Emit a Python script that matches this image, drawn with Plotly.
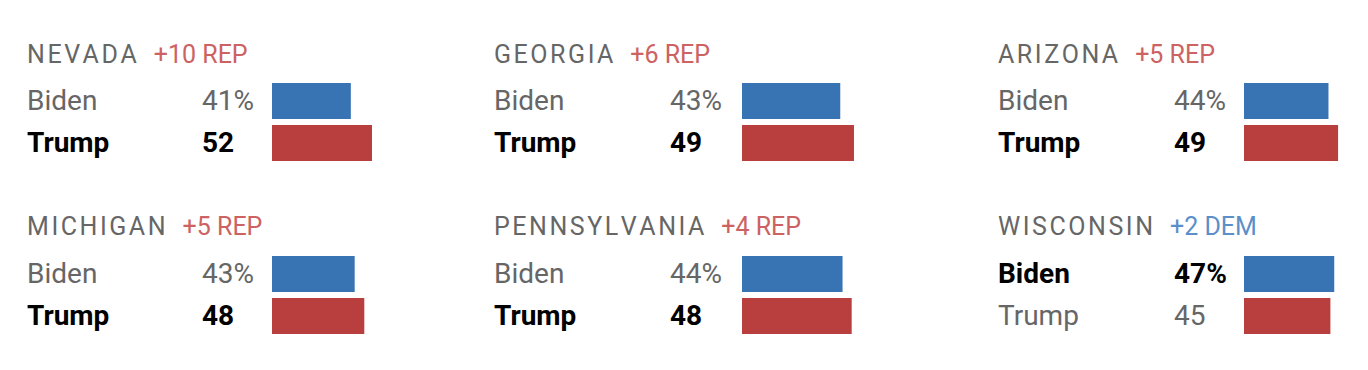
import plotly.graph_objects as go

# ---- data ----
states = ["NEVADA", "GEORGIA", "ARIZONA", "MICHIGAN", "PENNSYLVANIA", "WISCONSIN"]
margin_labels = ["+10 REP", "+6 REP", "+5 REP", "+5 REP", "+4 REP", "+2 DEM"]
candidates = ["Biden", "Trump"]
biden = [41, 43, 44, 43, 44, 47]
trump = [52, 49, 49, 48, 48, 45]

# ---- style / layout ----
OFF = 8  # page body margin
W, H = 1368 - OFF, 370 - OFF
BLUE = "#3873b3"
RED = "#b93f3e"
REP_TXT = "#cc6262"
DEM_TXT = "#5b8fca"
GRAY = "#666666"
FONT = "Roboto"
HS = "\u200a"

label_x = [25, 492, 996]
num_x = [200, 668, 1172]
bar_x0 = [272, 742, 1244]
px_per_unit = [1.923, 2.285, 1.92]
row_dom = [(80, 164), (253, 337)]
title_y = [54, 227]
RMAX = 60


def px(x):
    return (x - OFF) / W


def py(y):
    return 1 - (y - OFF) / H


fig = go.Figure()
annotations = []
layout_axes = {}

for i, st in enumerate(states):
    r, c = divmod(i, 3)
    k = i + 1
    xa = "x" if k == 1 else f"x{k}"
    ya = "y" if k == 1 else f"y{k}"
    vals = [biden[i], trump[i]]
    fig.add_trace(go.Bar(
        x=vals, y=candidates, orientation="h",
        marker=dict(color=[BLUE, RED], line=dict(width=0)),
        xaxis=xa, yaxis=ya, hoverinfo="skip", showlegend=False,
    ))
    x0 = bar_x0[c]
    x1 = x0 + px_per_unit[c] * RMAX
    y0, y1 = row_dom[r]
    layout_axes["xaxis" if k == 1 else f"xaxis{k}"] = dict(
        domain=[px(x0), px(x1)], range=[0, RMAX], visible=False,
        anchor=ya, fixedrange=True)
    layout_axes["yaxis" if k == 1 else f"yaxis{k}"] = dict(
        domain=[py(y1), py(y0)], range=[1.5, -0.5], visible=False,
        anchor=xa, fixedrange=True, type="category",
        categoryorder="array", categoryarray=candidates)

    # title
    is_dem = margin_labels[i].endswith("DEM")
    mcol = DEM_TXT if is_dem else REP_TXT
    spaced = HS.join(st)
    mlabel = margin_labels[i]
    annotations.append(dict(
        x=px(label_x[c]), y=py(title_y[r]), xref="paper", yref="paper",
        xanchor="left", yanchor="middle", showarrow=False,
        text=f"{spaced}\u2002\u2006<span style='color:{mcol}'>{mlabel}</span>",
        font=dict(family=FONT, size=25, color=GRAY)))

    # rows
    winner = 0 if biden[i] > trump[i] else 1
    centers = [(y0 + (y1 - y0) * 0.25), (y0 + (y1 - y0) * 0.75)]
    for j, cand in enumerate(candidates):
        bold = j == winner
        color = "#000000" if bold else GRAY
        num = f"{vals[j]}%" if j == 0 else f"{vals[j]}"
        fnt = dict(family=FONT, size=28, color=color,
                   weight=700 if bold else 400)
        annotations.append(dict(
            x=px(label_x[c]), y=py(centers[j] - 1), xref="paper", yref="paper",
            xanchor="left", yanchor="middle", showarrow=False,
            text=cand, font=fnt))
        annotations.append(dict(
            x=px(num_x[c]), y=py(centers[j] - 1), xref="paper", yref="paper",
            xanchor="left", yanchor="middle", showarrow=False,
            text=num, font=fnt))

fig.update_layout(
    width=W, height=H, margin=dict(l=0, r=0, t=0, b=0),
    paper_bgcolor="white", plot_bgcolor="white",
    bargap=1 - 36 / 42, annotations=annotations, **layout_axes)

fig.write_html("out.html", config={"displayModeBar": False})
